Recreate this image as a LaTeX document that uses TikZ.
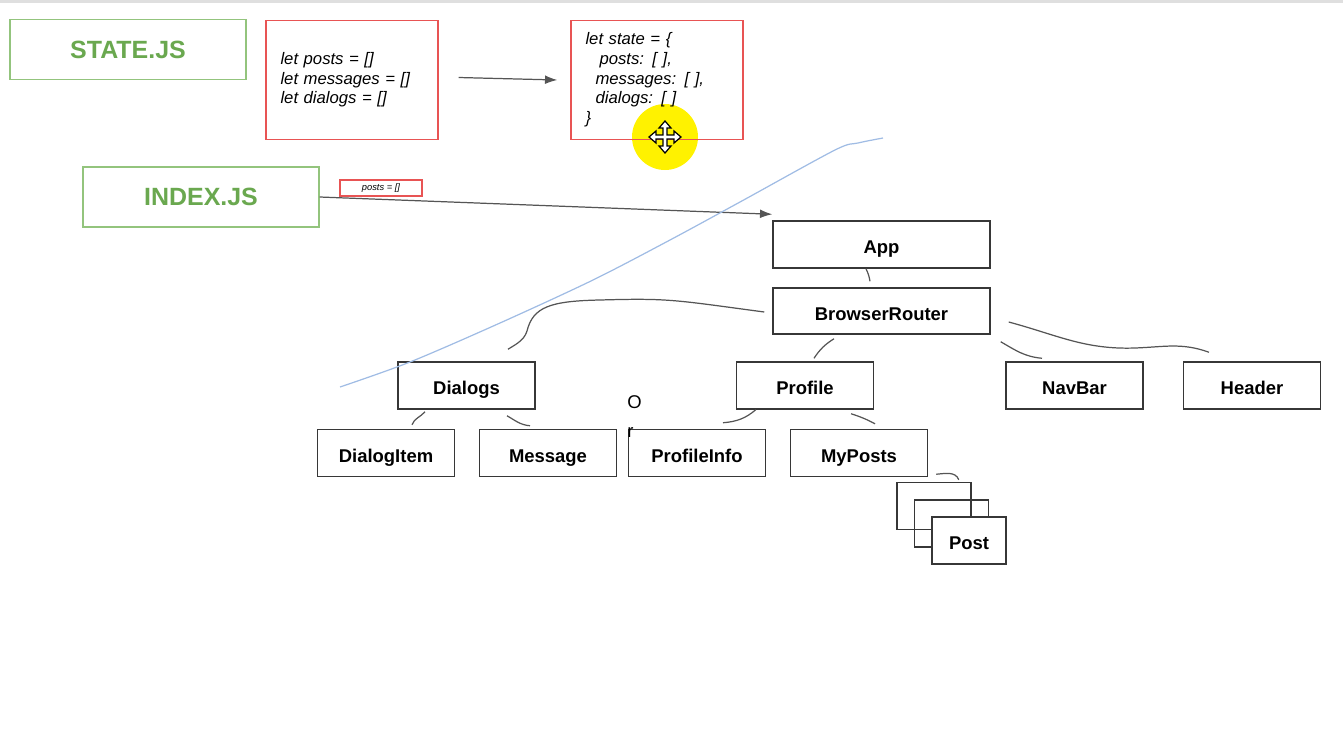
\documentclass[tikz,border=0pt]{standalone}
\usepackage{fontspec}
\setmainfont{Liberation Sans}
\usetikzlibrary{arrows.meta}
\definecolor{jsgreen}{RGB}{106,168,79}
\definecolor{jsframe}{RGB}{147,196,125}
\definecolor{codered}{RGB}{232,84,84}
\definecolor{boxgray}{RGB}{55,55,55}
\definecolor{linkgray}{RGB}{85,85,85}
\definecolor{penblue}{RGB}{160,188,228}

\begin{document}
\begin{tikzpicture}[x=0.02cm,y=-0.02cm,
	jsfile/.style={draw=jsframe, line width=0.8pt, minimum width=4.72cm, minimum height=1.2cm, inner sep=0pt, text=jsgreen, font=\bfseries\fontsize{14.2}{16}\selectfont},
	code/.style={draw=codered, line width=0.8pt, minimum width=3.44cm, minimum height=2.38cm, inner sep=0pt, text width=2.86cm, align=left, font=\itshape\fontsize{9.5}{11.2}\selectfont},
	comp/.style={draw=boxgray, line width=0.85pt, minimum width=2.74cm, minimum height=0.94cm, inner sep=0pt, text height=11.4pt, text depth=1pt, font=\bfseries\fontsize{10.5}{12}\selectfont},
	link/.style={draw=linkgray, line width=0.7pt},
	flow/.style={draw=linkgray, line width=0.7pt, -{Latex[length=7pt,width=5pt]}}]
		\useasboundingbox (0,0) rectangle (1343,738);% page = screenshot
		\fill[gray!25] (0,0) rectangle (1343,3);% window edge

		\fill[yellow] (665,137) circle[radius=0.66cm];% pointer highlight

		% files
		\node[jsfile] (statejs) at (128,49.5) {STATE.JS};
		\node[jsfile] (indexjs) at (201,197) {INDEX.JS};

		% code snippets
		\node[code] (vars) at (352,80) {let posts = []\\let messages = []\\let dialogs = []};
		\node[code] (state) at (657,80) {let state = \{\\\hspace*{8pt}posts: [ ],\\\hspace*{5.7pt}messages: [ ],\\\hspace*{5.7pt}dialogs: [ ]\\\}};
		\node[draw=codered, line width=0.8pt, minimum width=1.64cm, minimum height=0.32cm, inner sep=0pt, font=\itshape\fontsize{5.3}{6}\selectfont] (postsvar) at (381,188) {posts = []};

		% component tree
		\node[comp, minimum width=4.34cm] (app) at (881.5,244.5) {App};
		\node[comp, minimum width=4.34cm, minimum height=0.92cm] (router) at (881.5,311) {BrowserRouter};
		\foreach \name/\txt/\x in {dialogs/Dialogs/466.5, profile/Profile/805, navbar/NavBar/1074.5, header/Header/1252}{%
			\node[comp] (\name) at (\x,385.5) {\txt};
		}
		\foreach \name/\txt/\x in {dialogitem/DialogItem/386, message/Message/548, profileinfo/ProfileInfo/697, myposts/MyPosts/859}{%
			\node[comp] (\name) at (\x,453) {\txt};
		}
		\foreach \i/\x/\y in {3/934/506, 2/951.5/523.5}{% stacked copies behind Post
			\node[comp, minimum width=1.48cm] (post\i) at (\x,\y) {};
		}
		\node[comp, fill=white, minimum width=1.48cm] (post) at (969,540.5) {Post};

		\node[anchor=west, inner sep=0pt, align=left, font=\fontsize{10.5}{16.5}\selectfont] (or) at (627,417) {O\\r};

		\draw[flow] ([shift={(20,-2.5)}]vars.east) -- ([shift={(-13,0)}]state.west);
		\draw[flow] (indexjs.east) -- ([shift={(0,-6)}]app.north west);

		% hand drawn links
		\draw[link] ([shift={(-15.5,0)}]app.south) to[bend left=8] ([shift={(-11.5,-6)}]router.north);
		\draw[link] ([shift={(-8,1)}]router.west) .. controls +(-90,-12) and +(70,-2) .. (600,300)
			.. controls +(-50,1) and +(6,-24) .. (527,331) .. controls +(-3,10) and +(6,-4) .. ([shift={(41.5,-12)}]dialogs.north);
		\draw[link] ([shift={(-47.5,4)}]router.south) to[bend right=12] ([shift={(9,-3)}]profile.north);
		\draw[link] ([shift={(10,7)}]router.south east) to[out=-30,in=175] ([shift={(-32.5,-3)}]navbar.north);
		\draw[link] ([shift={(18,11)}]router.east) to[out=-15,in=182] (1135,348) to[out=2,in=160] ([shift={(-43,-9)}]header.north);
		\draw[link] ([shift={(20,0)}]profile.south west) to[out=-140,in=5] ([shift={(26,-6)}]profileinfo.north);
		\draw[link] ([shift={(46,4)}]profile.south) to[bend left=5] ([shift={(16,-5)}]myposts.north);
		\draw[link] ([shift={(8,-3)}]myposts.south east) to[out=5,in=110] ([shift={(-13,-2)}]post3.north east);
		\draw[link] ([shift={(-41.5,2)}]dialogs.south) to[out=-130,in=70] ([shift={(26,-4)}]dialogitem.north);
		\draw[link] ([shift={(40.5,6)}]dialogs.south) to[out=-30,in=175] ([shift={(-18,-3)}]message.north);

		% pen stroke
		\draw[penblue, line width=0.7pt] plot[smooth] coordinates {(340,387) (410,362) (500,323) (593,280) (670,240) (740,202) (835,150) (858,143) (883,138)};

		% move pointer
		\filldraw[fill=white, draw=black, line width=0.7pt, shift={(665,137)}]
			(2,-2) -- (9,-2) -- (9,-6) -- (16,0) -- (9,6) -- (9,2) -- (2,2) -- (2,9) -- (6,9) -- (0,16) -- (-6,9) -- (-2,9) -- (-2,2)
			-- (-9,2) -- (-9,6) -- (-16,0) -- (-9,-6) -- (-9,-2) -- (-2,-2) -- (-2,-9) -- (-6,-9) -- (0,-16) -- (6,-9) -- (2,-9) -- cycle;
\end{tikzpicture}
\end{document}
